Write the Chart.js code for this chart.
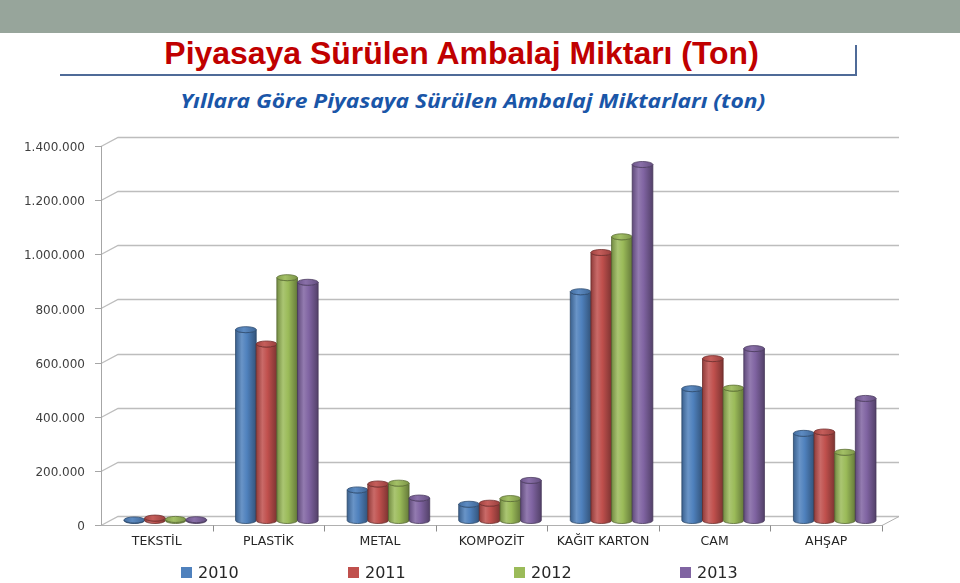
<!DOCTYPE html>
<html>
<head>
<meta charset="utf-8">
<script src="https://cdn.jsdelivr.net/npm/chart.js@4.4.1/dist/chart.umd.min.js"></script>
<style>
  html, body { margin:0; padding:0; width:960px; height:583px; overflow:hidden; background:#fff; }
  #topbar { position:absolute; left:0; top:0; width:960px; height:33px; background:#97a59b; }
  #title { position:absolute; left:0; top:36px; width:924px; text-align:center; font-family:"Liberation Sans", Arial, sans-serif; font-weight:bold; font-size:31px; color:#c00000; white-space:nowrap; }
  #title span { display:inline-block; transform:scaleX(1.03); transform-origin:center; }
  #uline { position:absolute; left:60px; top:74px; width:797px; height:2px; background:#4f6b98; }
  #vline { position:absolute; left:855px; top:45px; width:2px; height:31px; background:#4f6b98; }
  #sub { position:absolute; left:0; top:88px; width:946px; text-align:center; font-family:"Open Sans", sans-serif; font-style:italic; font-weight:bold; font-size:19px; color:#1a56a8; white-space:nowrap; }
  #sub span { display:inline-block; transform:scaleX(1.2); transform-origin:center; }
  #chartwrap { position:absolute; left:0; top:0; width:960px; height:583px; }
  #legend { position:absolute; left:0; top:563px; width:960px; height:20px; font-family:"DejaVu Sans", sans-serif; font-size:16px; color:#262626; }
  .li { position:absolute; top:0; white-space:nowrap; }
  .li i { display:inline-block; width:11px; height:11px; margin-right:6px; vertical-align:0px; }
</style>
</head>
<body>
<div id="topbar"></div>
<div id="title"><span>Piyasaya Sürülen Ambalaj Miktarı (Ton)</span></div>
<div id="uline"></div>
<div id="vline"></div>
<div id="sub"><span>Yıllara Göre Piyasaya Sürülen Ambalaj Miktarları (ton)</span></div>
<div id="chartwrap"><canvas id="c" width="960" height="583"></canvas></div>
<div id="legend"></div>
<script>
// ---- data ----
const categories = ["TEKSTİL", "PLASTİK", "METAL", "KOMPOZİT", "KAĞIT KARTON", "CAM", "AHŞAP"];
const years = ["2010", "2011", "2012", "2013"];
const values2010 = [2000, 705000, 113000, 60000, 845000, 487000, 322000];
const values2011 = [9000, 652000, 135000, 64000, 990000, 598000, 327000];
const values2012 = [4000, 897000, 138000, 81000, 1048000, 489000, 252000];
const values2013 = [3000, 880000, 83000, 148000, 1315000, 635000, 451000];
const yTicks = [0, 200000, 400000, 600000, 800000, 1000000, 1200000, 1400000];
const colors = ["#4f81bd", "#c0504d", "#9bbb59", "#8064a2"];

const seriesValues = [values2010, values2011, values2012, values2013];

function fmt(v) { return String(v).replace(/\B(?=(\d{3})+(?!\d))/g, "."); }

function shade(hex, f) {
  const n = parseInt(hex.slice(1), 16);
  let r = (n >> 16) & 255, g = (n >> 8) & 255, b = n & 255;
  if (f < 1) { r *= f; g *= f; b *= f; }
  else { r = r + (255 - r) * (f - 1); g = g + (255 - g) * (f - 1); b = b + (255 - b) * (f - 1); }
  return "rgb(" + Math.round(r) + "," + Math.round(g) + "," + Math.round(b) + ")";
}

// depth offsets for pseudo-3D
const DEPTH_X = 17, DEPTH_Y = -9;

const wallPlugin = {
  id: "wall3d",
  beforeDatasetsDraw(chart) {
    const ctx = chart.ctx, ys = chart.scales.y, a = chart.chartArea;
    ctx.save();
    ctx.lineWidth = 1.3;
    ctx.strokeStyle = "#bdbdbd";
    yTicks.forEach(v => {
      const py = Math.round(ys.getPixelForValue(v)) + 0.5;
      ctx.beginPath();
      ctx.moveTo(a.left, py);
      ctx.lineTo(a.left + DEPTH_X, py + DEPTH_Y);
      ctx.lineTo(a.right + DEPTH_X, py + DEPTH_Y);
      ctx.stroke();
    });
    ctx.strokeStyle = "#a6a6a6";
    ctx.lineWidth = 1;
    yTicks.forEach(v => {
      const py = Math.round(ys.getPixelForValue(v)) + 0.5;
      ctx.beginPath(); ctx.moveTo(a.left - 6, py); ctx.lineTo(a.left, py); ctx.stroke();
    });
    ctx.beginPath();
    ctx.moveTo(a.left + 0.5, ys.getPixelForValue(yTicks[yTicks.length - 1]));
    ctx.lineTo(a.left + 0.5, a.bottom);
    ctx.stroke();
    const fy = Math.round(ys.getPixelForValue(0)) + 0.5;
    ctx.strokeStyle = "#b0b0b0";
    ctx.beginPath();
    ctx.moveTo(a.left, fy);
    ctx.lineTo(a.right, fy);
    ctx.lineTo(a.right + DEPTH_X, fy + DEPTH_Y);
    ctx.stroke();
    const cw = (a.right - a.left) / categories.length;
    ctx.strokeStyle = "#8c8c8c";
    for (let i = 1; i <= categories.length; i++) {
      const bx = Math.round(a.left + i * cw) + 0.5;
      ctx.beginPath(); ctx.moveTo(bx, fy); ctx.lineTo(bx, fy + 6); ctx.stroke();
    }
    ctx.restore();
  },
  beforeDatasetDraw() { return false; },
  afterDatasetsDraw(chart) {
    const ctx = chart.ctx;
    const dx = DEPTH_X / 2, dy = DEPTH_Y / 2;
    ctx.save();
    chart.data.datasets.forEach((ds, di) => {
      const meta = chart.getDatasetMeta(di);
      const col = colors[di];
      meta.data.forEach(el => {
        const p = el.getProps(["x", "y", "base", "width"], true);
        const w = p.width, rx = w / 2, ry = 3;
        const cx = p.x + dx, top = p.y + dy, bot = p.base + dy;
        const l = cx - rx, r = cx + rx;
        const g = ctx.createLinearGradient(l, 0, r, 0);
        g.addColorStop(0, shade(col, 0.75));
        g.addColorStop(0.3, shade(col, 1.15));
        g.addColorStop(0.55, col);
        g.addColorStop(1, shade(col, 0.65));
        ctx.beginPath();
        ctx.moveTo(l, top);
        ctx.lineTo(l, bot);
        ctx.ellipse(cx, bot, rx, ry, 0, Math.PI, 0, true);
        ctx.lineTo(r, top);
        ctx.ellipse(cx, top, rx, ry, 0, 0, Math.PI, false);
        ctx.closePath();
        ctx.fillStyle = g;
        ctx.fill();
        ctx.strokeStyle = shade(col, 0.55);
        ctx.lineWidth = 0.8;
        ctx.stroke();
        const gc = ctx.createLinearGradient(l, 0, r, 0);
        gc.addColorStop(0, shade(col, 0.85));
        gc.addColorStop(0.4, shade(col, 1.08));
        gc.addColorStop(1, shade(col, 0.8));
        ctx.beginPath();
        ctx.ellipse(cx, top, rx, ry, 0, 0, Math.PI * 2);
        ctx.fillStyle = gc;
        ctx.fill();
        ctx.strokeStyle = shade(col, 0.6);
        ctx.stroke();
      });
    });
    ctx.restore();
  }
};

new Chart(document.getElementById("c"), {
  type: "bar",
  data: {
    labels: categories,
    datasets: years.map((y, i) => ({
      label: y,
      data: seriesValues[i],
      backgroundColor: colors[i],
      borderWidth: 0,
      categoryPercentage: 0.74,
      barPercentage: 1.0
    }))
  },
  options: {
    responsive: false,
    animation: false,
    layout: { padding: { left: 0, right: 78, top: 146, bottom: 0 } },
    plugins: { legend: { display: false }, title: { display: false }, tooltip: { enabled: false } },
    scales: {
      x: {
        grid: { display: false, drawTicks: false },
        border: { display: false },
        ticks: { padding: 9, color: "#262626", font: { family: "DejaVu Sans", size: 12.5 }, maxRotation: 0, autoSkip: false },
        afterFit(s) { s.height = 58; }
      },
      y: {
        min: 0, max: 1400000,
        grid: { display: false, drawTicks: false },
        border: { display: false },
        afterBuildTicks(s) { s.ticks = yTicks.map(v => ({ value: v })); },
        ticks: { padding: 16, labelOffset: 2, color: "#404040", font: { family: "DejaVu Sans", size: 12 }, callback: v => fmt(v) },
        afterFit(s) { s.width = 101; }
      }
    }
  },
  plugins: [wallPlugin]
});

const lg = document.getElementById("legend");
const legendX = [181, 348, 514, 680];
years.forEach((y, i) => {
  const d = document.createElement("div");
  d.className = "li";
  d.style.left = legendX[i] + "px";
  d.innerHTML = '<i style="background:' + colors[i] + '"></i>' + y;
  lg.appendChild(d);
});
</script>
</body>
</html>
